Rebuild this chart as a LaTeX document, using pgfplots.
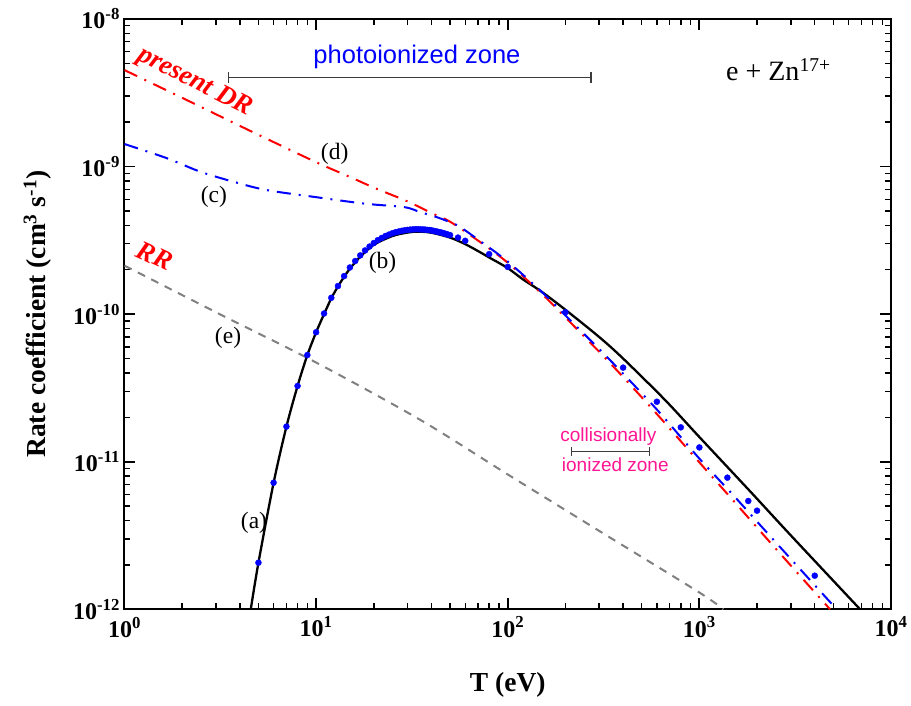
\documentclass[border=0pt]{standalone}
\usepackage{fontspec}
\setmainfont{Liberation Serif}
\newfontfamily\arial{Liberation Sans}
\usepackage{pgfplots}
\pgfplotsset{compat=1.18}
\definecolor{dpink}{RGB}{255,20,147}
\definecolor{rrgray}{RGB}{128,128,128}
\definecolor{bargray}{RGB}{60,60,60}

% total rate coefficient, solid curve (a)-(b)
\pgfplotstableread{
T      k
4.56   1e-12
5      2.07e-12
6      7.2e-12
7      1.73e-11
8      3.26e-11
9      5.28e-11
10     7.54e-11
11     1.0e-10
12     1.28e-10
13     1.54e-10
14     1.79e-10
15     2.03e-10
17     2.45e-10
20     2.95e-10
25     3.38e-10
30     3.57e-10
34     3.62e-10
40     3.56e-10
50     3.3e-10
60     2.98e-10
72     2.62e-10
80     2.42e-10
100    2.05e-10
120    1.72e-10
150    1.42e-10
200    1.07e-10
300    7.0e-11
400    5.0e-11
662    2.62e-11
1000   1.47e-11
1841   6.3e-12
3000   3.17e-12
6900   1e-12
}\totalrate

% present DR, curve (d)
\pgfplotstableread{
T      k
1      4.5e-9
2      2.92e-9
3      2.26e-9
5      1.64e-9
10     1.07e-9
15     8.5e-10
20     7.2e-10
30     5.8e-10
41     4.77e-10
50     4.23e-10
70     3.15e-10
100    2.23e-10
150    1.38e-10
200    9.5e-11
300    5.56e-11
400    3.75e-11
611    2.05e-11
1000   9.9e-12
1500   5.47e-12
2500   2.58e-12
4810   1e-12
}\presentdr

% curve (c)
\pgfplotstableread{
T      k
1      1.42e-9
1.66   1.14e-9
2.48   9.23e-10
3.7    7.89e-10
5.5    6.93e-10
10     6.2e-10
18     5.6e-10
29     5.3e-10
35     4.9e-10
41     4.62e-10
50     4.2e-10
56     3.92e-10
70     3.2e-10
100    2.27e-10
150    1.42e-10
200    9.8e-11
300    5.8e-11
400    3.95e-11
611    2.2e-11
1000   1.05e-11
1500   5.95e-12
2500   2.85e-12
5210   1e-12
}\curvec

% radiative recombination, curve (e)
\pgfplotstableread{
T      k
1      2.13e-10
3      1.03e-10
10     4.7e-11
35     1.92e-11
100    8.2e-12
300    3.4e-12
1000   1.3e-12
1334   1e-12
}\rr

% fitted values (dots)
\pgfplotstableread{
T      k
5      2.07e-12
6      7.21e-12
7      1.73e-11
8      3.26e-11
9      5.28e-11
10     7.54e-11
11     1.01e-10
12     1.29e-10
13     1.55e-10
14     1.81e-10
15     2.07e-10
16     2.29e-10
17     2.50e-10
18     2.70e-10
19     2.87e-10
20     3.03e-10
21     3.17e-10
22     3.28e-10
23     3.38e-10
24     3.46e-10
25     3.53e-10
26     3.59e-10
27     3.63e-10
28     3.67e-10
29     3.70e-10
30     3.72e-10
31     3.74e-10
32     3.75e-10
33     3.76e-10
34     3.76e-10
35     3.75e-10
36     3.75e-10
37     3.74e-10
38     3.72e-10
39     3.71e-10
40     3.69e-10
41     3.67e-10
42     3.64e-10
43     3.62e-10
44     3.59e-10
45     3.57e-10
46     3.54e-10
47     3.51e-10
48     3.48e-10
49     3.45e-10
50     3.43e-10
55     3.30e-10
60     3.14e-10
80     2.55e-10
100    2.09e-10
200    1.03e-10
400    4.34e-11
600    2.55e-11
800    1.71e-11
1000   1.25e-11
1400   7.80e-12
1800   5.42e-12
2000   4.66e-12
4000   1.69e-12
}\fitdots

\begin{document}
\begin{tikzpicture}
\useasboundingbox (-124.5pt,-95.7pt) rectangle (786.5pt,609.3pt);
\begin{axis}[
  at={(0,0)}, anchor=south west,
  scale only axis, width=766.5pt, height=590.4pt,
  xmode=log, ymode=log,
  xmin=1, xmax=1e4, ymin=1e-12, ymax=1e-8,
  axis line style={line width=2pt},
  tick align=inside,
  major tick length=11pt, minor tick length=6pt,
  every major tick/.style={line width=1.8pt, black},
  every minor tick/.style={line width=1.4pt, black},
  xtick={1,10,100,1000,10000},
  xticklabels={10\textsuperscript{0},10\textsuperscript{1},10\textsuperscript{2},10\textsuperscript{3},10\textsuperscript{4}},
  ytick={1e-12,1e-11,1e-10,1e-9,1e-8},
  yticklabels={10\textsuperscript{-12},10\textsuperscript{-11},10\textsuperscript{-10},10\textsuperscript{-9},10\textsuperscript{-8}},
  tick label style={font=\fontsize{24}{28}\selectfont\bfseries},
  xticklabel style={yshift=-4pt},
  yticklabel style={xshift=-1pt},
  xlabel={T (eV)},
  ylabel={Rate coefficient (cm\textsuperscript{3} s\textsuperscript{-1})},
  label style={font=\fontsize{27.5}{32}\selectfont\bfseries},
  xlabel style={at={(axis description cs:0.5,-0.128)}, anchor=center},
  ylabel style={at={(axis description cs:-0.1136,0.5)}, anchor=center},
]
\addplot[rrgray, line width=2pt, dash pattern=on 8pt off 7pt, smooth] table[x=T,y=k] {\rr};
\addplot[black, line width=2.3pt, smooth, tension=0.5] table[x=T,y=k] {\totalrate};
\addplot[red, line width=2pt, dash pattern=on 14pt off 8pt on 2pt off 8pt, smooth, tension=0.5] table[x=T,y=k] {\presentdr};
\addplot[blue, line width=2pt, dash pattern=on 14pt off 8pt on 2pt off 8pt, smooth, tension=0.5] table[x=T,y=k] {\curvec};
\addplot[only marks, mark=*, mark size=3pt, blue, mark options={draw=none, fill=blue}] table[x=T,y=k] {\fitdots};

% zone bars with end caps
\draw[bargray, line width=1.2pt] (axis cs:3.5,4.03e-9) -- (axis cs:272,4.03e-9);
\draw[bargray, line width=1.2pt] ([yshift=-5.5pt]axis cs:3.5,4.03e-9) -- ([yshift=5.5pt]axis cs:3.5,4.03e-9);
\draw[bargray, line width=1.2pt] ([yshift=-5.5pt]axis cs:272,4.03e-9) -- ([yshift=5.5pt]axis cs:272,4.03e-9);
\draw[bargray, line width=1.2pt] (axis cs:216,1.17e-11) -- (axis cs:548,1.17e-11);
\draw[bargray, line width=1.2pt] ([yshift=-4.5pt]axis cs:216,1.17e-11) -- ([yshift=4.5pt]axis cs:216,1.17e-11);
\draw[bargray, line width=1.2pt] ([yshift=-4.5pt]axis cs:548,1.17e-11) -- ([yshift=4.5pt]axis cs:548,1.17e-11);

\node[text=blue, font=\arial\fontsize{25.5}{30}\selectfont] at (axis cs:33.6,5.52e-9) {photoionized zone};
\node[anchor=west, inner sep=0pt, text=dpink, font=\arial\fontsize{19}{22}\selectfont] at (axis cs:187.6,1.48e-11) {collisionally};
\node[anchor=west, inner sep=0pt, text=dpink, font=\arial\fontsize{19}{22}\selectfont] at (axis cs:191.4,9.5e-12) {ionized zone};

\node[anchor=base west, inner sep=0pt, font=\fontsize{28}{32}\selectfont] at (axis cs:1377,3.85e-9) {e + Zn\textsuperscript{17+}};

\node[rotate=-27, text=red, font=\fontsize{27}{30}\selectfont\bfseries\itshape] at (axis cs:2.33,3.72e-9) {present DR};
\node[rotate=-25, text=red, font=\fontsize{27}{30}\selectfont\bfseries\itshape] at (axis cs:1.44,2.49e-10) {RR};

\node[font=\fontsize{23.5}{28}\selectfont] at (axis cs:4.74,3.87e-12) {(a)};
\node[font=\fontsize{23.5}{28}\selectfont] at (axis cs:22.2,2.22e-10) {(b)};
\node[font=\fontsize{23.5}{28}\selectfont] at (axis cs:2.93,6.2e-10) {(c)};
\node[font=\fontsize{23.5}{28}\selectfont] at (axis cs:12.5,1.22e-9) {(d)};
\node[font=\fontsize{23.5}{28}\selectfont] at (axis cs:3.47,6.9e-11) {(e)};
\end{axis}
\end{tikzpicture}
\end{document}
